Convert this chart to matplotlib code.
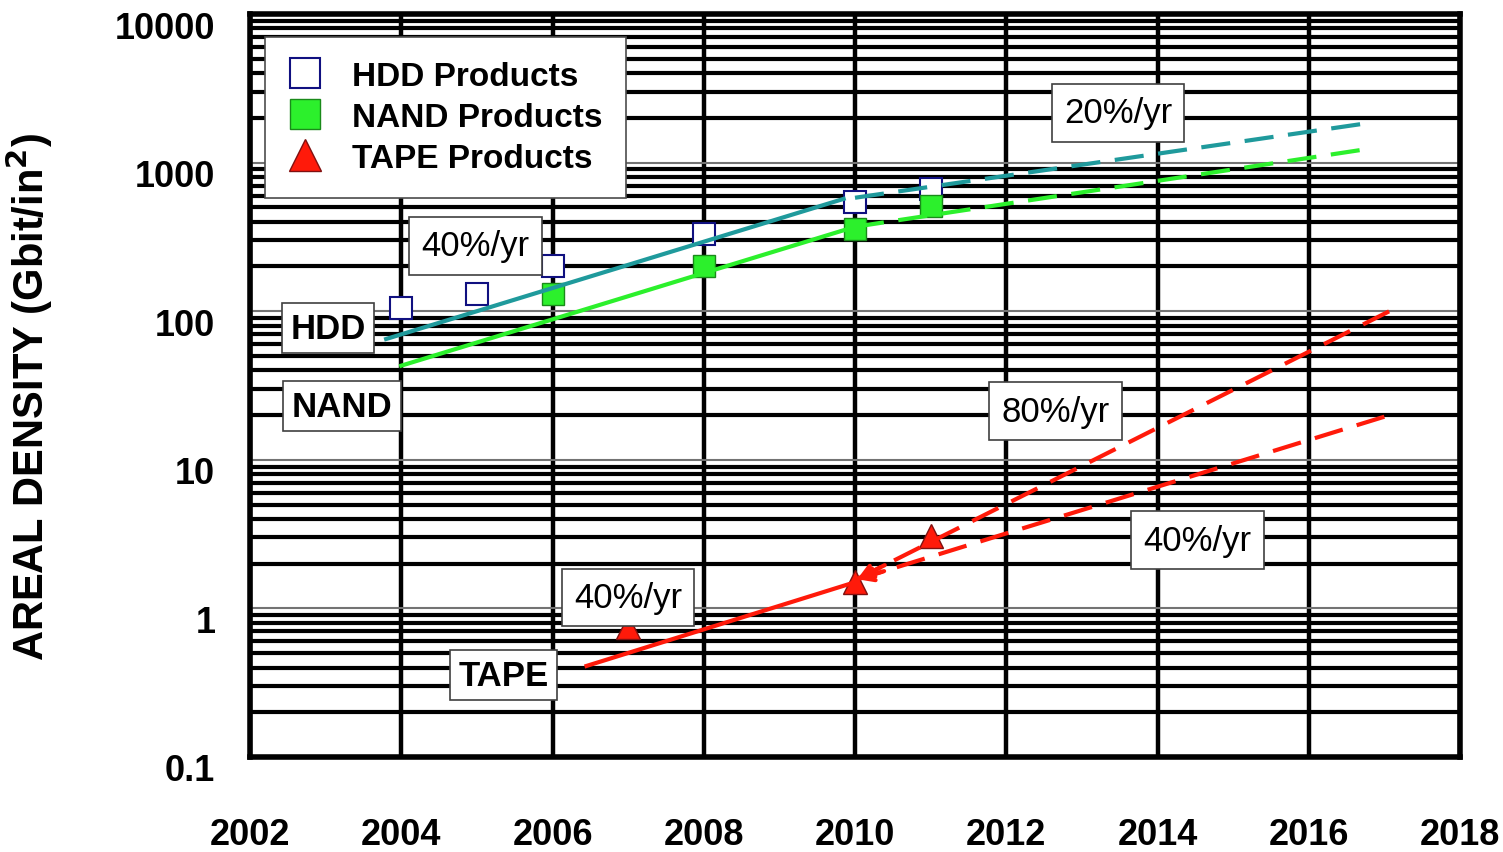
import numpy as np
import matplotlib.pyplot as plt
import matplotlib.transforms as mtransforms
from matplotlib.ticker import LogLocator, FixedLocator, NullFormatter

plt.rcParams['font.family'] = ['Liberation Sans', 'DejaVu Sans']

# product data points
hdd_years = [2004, 2005, 2006, 2008, 2010, 2011]
hdd_vals = [105, 130, 200, 330, 545, 665]
nand_years = [2006, 2008, 2010, 2011]
nand_vals = [130, 200, 355, 510]
tape_years = [2007, 2010, 2011]
tape_vals = [0.75, 1.5, 3.05]

# trend lines: solid fits and dashed projections
hdd_fit_x = [2003.8, 2009.85]
hdd_fit_y = [65, 570]
hdd_proj_x = [2010.0, 2016.8]
hdd_proj_y = [580, 1850]
nand_fit_x = [2004.0, 2010.0]
nand_fit_y = [43, 370]
nand_proj_x = [2010.0, 2016.8]
nand_proj_y = [370, 1240]
tape_fit_x = [2006.45, 2010.0]
tape_fit_y = [0.41, 1.5]
tape_proj80_x = [2010.0, 2017.1]
tape_proj80_y = [1.55, 102]
tape_proj40_x = [2010.0, 2017.0]
tape_proj40_y = [1.55, 19.5]

# text boxes: (x, y, text, bold)
labels = [
    (2004.98, 275, "40%/yr", False),
    (2003.03, 77, "HDD", True),
    (2003.22, 23, "NAND", True),
    (2013.48, 2160, "20%/yr", False),
    (2012.65, 21.3, "80%/yr", False),
    (2014.53, 2.88, "40%/yr", False),
    (2007.0, 1.19, "40%/yr", False),
    (2005.35, 0.356, "TAPE", True),
]

xticks = [2002, 2004, 2006, 2008, 2010, 2012, 2014, 2016, 2018]
yticks = [0.1, 1, 10, 100, 1000, 10000]
ytick_labels = ["0.1", "1", "10", "100", "1000", "10000"]

teal = "#1f9a9c"
green = "#2cf02c"
red = "#ff1a0a"

fig = plt.figure(figsize=(15.03, 8.53), dpi=100)
ax = fig.add_axes([250 / 1503, 95 / 853, 1210 / 1503, 743 / 853])
ax.set_yscale('log')
ax.set_xlim(2002, 2018)
ax.set_ylim(0.1, 10000)

ax.xaxis.set_major_locator(FixedLocator(xticks))
ax.yaxis.set_major_locator(FixedLocator(yticks))
ax.yaxis.set_minor_locator(LogLocator(base=10, subs=np.arange(2, 10)))
ax.yaxis.set_minor_formatter(NullFormatter())
ax.set_yticklabels(ytick_labels)
ax.set_axisbelow(True)
ax.grid(which='minor', axis='y', color='black', lw=3)
ax.grid(which='major', axis='y', color='0.45', lw=1.5)
ax.grid(which='major', axis='x', color='black', lw=3.2)
for sp in ax.spines.values():
    sp.set_linewidth(4)
ax.tick_params(which='both', length=0)
ax.tick_params(axis='x', pad=43, labelsize=26)
ax.tick_params(axis='y', pad=25, labelsize=26)
shift = mtransforms.ScaledTranslation(0, -0.1, fig.dpi_scale_trans)
for t in ax.get_xticklabels() + ax.get_yticklabels():
    t.set_fontweight('bold')
for t in ax.get_yticklabels():
    t.set_transform(t.get_transform() + shift)

ax.set_ylabel("AREAL DENSITY (Gbit/in$^\\mathbf{2}$)", fontsize=30, fontweight='bold')
ax.yaxis.set_label_coords(-0.161, 0.486)

# trend lines
ax.plot(hdd_fit_x, hdd_fit_y, color=teal, lw=3, zorder=3)
ax.plot(hdd_proj_x, hdd_proj_y, color=teal, lw=3, ls=(0, (7, 3.5)), zorder=3)
ax.plot(nand_fit_x, nand_fit_y, color=green, lw=3, zorder=3)
ax.plot(nand_proj_x, nand_proj_y, color=green, lw=3, ls=(0, (7, 3.5)), zorder=3)
ax.plot(tape_fit_x, tape_fit_y, color=red, lw=3, zorder=3)
ax.plot(tape_proj80_x, tape_proj80_y, color=red, lw=3, ls=(0, (7, 3.5)), zorder=3)
ax.plot(tape_proj40_x, tape_proj40_y, color=red, lw=3, ls=(0, (7, 3.5)), zorder=3)
for px, py in [(tape_proj80_x, tape_proj80_y), (tape_proj40_x, tape_proj40_y)]:
    t = 0.06
    sx = px[0] + t * (px[1] - px[0])
    sy = 10 ** (np.log10(py[0]) + t * (np.log10(py[1]) - np.log10(py[0])))
    ax.annotate('', xy=(px[0], py[0]), xytext=(sx, sy),
                arrowprops=dict(arrowstyle='->', color=red, lw=3, mutation_scale=22),
                zorder=3)

# product markers
ax.plot(hdd_years, hdd_vals, ls='none', marker='s', ms=16, mfc='white', mec='#101080',
        mew=1.5, zorder=2.5, label='HDD Products')
ax.plot(nand_years, nand_vals, ls='none', marker='s', ms=16, mfc=green, mec='#1a8a1a',
        mew=1, zorder=2.5, label='NAND Products')
ax.plot(tape_years, tape_vals, ls='none', marker='^', ms=17, mfc=red, mec='#801010',
        mew=1, zorder=2.5, label='TAPE Products')

for x, y, s, b in labels:
    ax.text(x, y, s, ha='center', va='center', fontsize=25,
            fontweight='bold' if b else 'normal', zorder=6,
            bbox=dict(boxstyle='square,pad=0.35' if not b else 'square,pad=0.25',
                      fc='white', ec='0.25', lw=1.2))

leg = ax.legend(loc='upper left', bbox_to_anchor=(0.012, 0.969), fancybox=False,
                framealpha=1, edgecolor='0.3', borderpad=0.72, labelspacing=0.3,
                handlelength=1.0, handletextpad=0.9, borderaxespad=0, markerscale=1.35,
                prop={'size': 24, 'weight': 'bold'})
leg.get_frame().set_linewidth(1.2)
leg.set_zorder(7)

fig.savefig('out.png', dpi=100)
